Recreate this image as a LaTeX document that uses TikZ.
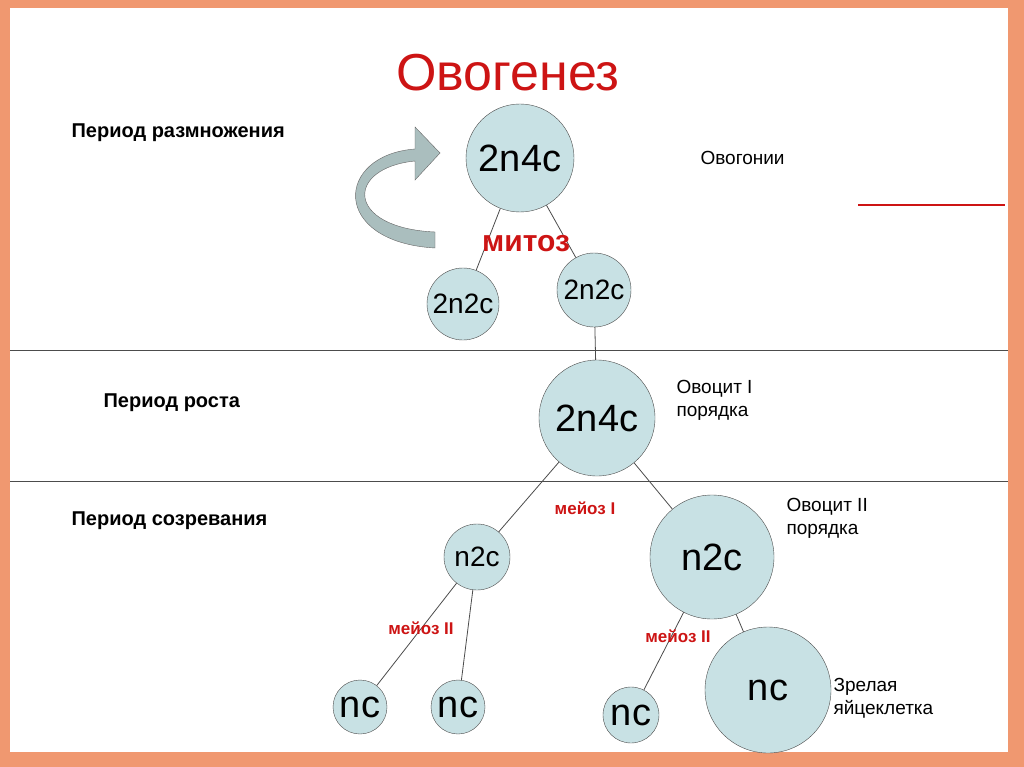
\documentclass[tikz,border=0pt]{standalone}
\usepackage{fontspec}
\setmainfont{Liberation Sans}
\definecolor{frameorange}{RGB}{240,152,112}
\definecolor{cellblue}{RGB}{200,225,228}
\definecolor{redtext}{RGB}{205,20,20}
\definecolor{arrowgray}{RGB}{170,190,190}
\tikzset{
  cell/.style={circle, draw=black!70, fill=cellblue, inner sep=0pt},
  period/.style={anchor=west, font=\fontsize{20}{22}\selectfont\bfseries},
  stage/.style={anchor=west, align=left, font=\fontsize{19}{23}\selectfont},
  division/.style={text=redtext, font=\fontsize{17}{19}\selectfont\bfseries},
  link/.style={draw=black!70, line width=0.8pt}
}
\begin{document}
\begin{tikzpicture}[x=1pt,y=-1pt]
  \useasboundingbox (0,0) rectangle (1024,767);
  \fill[frameorange] (0,0) rectangle (1024,767);
  \fill[white] (10,8) rectangle (1008,752);
  % dividing lines
  \draw[black!70, line width=0.8pt] (10,350) -- (1008,350);
  \draw[black!70, line width=0.8pt] (10,481) -- (1008,481);
  \draw[redtext, line width=2pt] (858,205) -- (1005,205);
  % title and periods
  \node[text=redtext, font=\fontsize{52}{54}\selectfont] (title) at (508,73) {Овогенез};
  \node[period] (p1) at (68,133) {Период размножения};
  \node[period] (p2) at (100,403) {Период роста};
  \node[period] (p3) at (68,521) {Период созревания};
  % cycle arrow
  \draw[black!60, fill=arrowgray] (435,248) .. controls (330,242) and (335,155) .. (415,149)
    -- (415,127) -- (440,153) -- (415,180) -- (415,161)
    .. controls (345,168) and (345,228) .. (435,232) -- cycle;
  % cells
  \node[cell, minimum size=108pt, font=\fontsize{38}{40}\selectfont] (og) at (520,158) {2n4c};
  \node[cell, minimum size=72pt, font=\fontsize{28}{30}\selectfont] (ogl) at (463,304) {2n2c};
  \node[cell, minimum size=74pt, font=\fontsize{28}{30}\selectfont] (ogr) at (594,290) {2n2c};
  \node[cell, minimum size=116pt, font=\fontsize{38}{40}\selectfont] (oc1) at (597,418) {2n4c};
  \node[cell, minimum size=66pt, font=\fontsize{28}{30}\selectfont] (pb1) at (477,557) {n2c};
  \node[cell, minimum size=124pt, font=\fontsize{38}{40}\selectfont] (oc2) at (712,557) {n2c};
  \node[cell, minimum size=54pt, font=\fontsize{38}{40}\selectfont] (pba) at (360,707) {nc};
  \node[cell, minimum size=54pt, font=\fontsize{38}{40}\selectfont] (pbb) at (458,707) {nc};
  \node[cell, minimum size=56pt, font=\fontsize{38}{40}\selectfont] (pbc) at (631,715) {nc};
  \node[cell, minimum size=126pt, font=\fontsize{38}{40}\selectfont] (egg) at (768,690) {nc};
  % links
  \draw[link] (og) -- (ogl);
  \draw[link] (og) -- (ogr);
  \draw[link] (ogr) -- (oc1);
  \draw[link] (oc1) -- (pb1);
  \draw[link] (oc1) -- (oc2);
  \draw[link] (pb1) -- (pba);
  \draw[link] (pb1) -- (pbb);
  \draw[link] (oc2) -- (pbc);
  \draw[link] (oc2) -- (egg);
  % divisions
  \node[division, font=\fontsize{30}{32}\selectfont\bfseries] (mit) at (526,244) {митоз};
  \node[division] (m1) at (585,508) {мейоз I};
  \node[division] (m2a) at (421,628) {мейоз II};
  \node[division] (m2b) at (678,636) {мейоз II};
  % stages
  \node[stage] (s1) at (697,158) {Овогонии};
  \node[stage] (s2) at (673,400) {Овоцит I\\порядка};
  \node[stage] (s3) at (783,518) {Овоцит II\\порядка};
  \node[stage] (s4) at (830,698) {Зрелая\\яйцеклетка};
\end{tikzpicture}
\end{document}
